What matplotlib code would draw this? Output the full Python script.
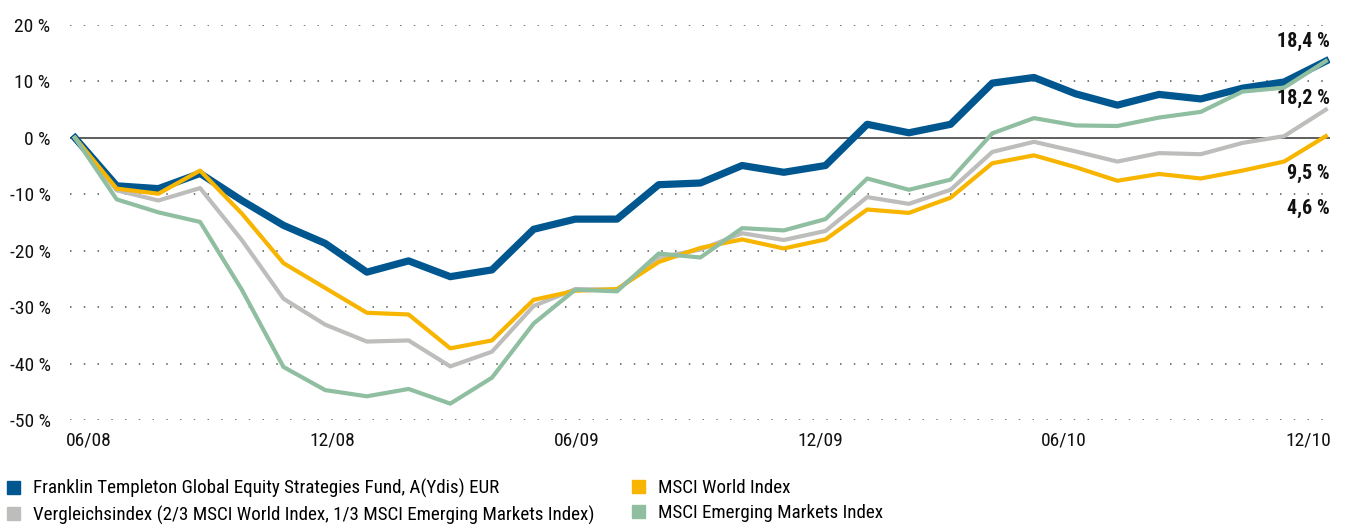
import matplotlib
matplotlib.use('Agg')
import matplotlib.pyplot as plt
import matplotlib.font_manager as fm
from matplotlib.patches import Patch
import numpy as np

# pick a condensed face that is installed
installed = {f.name for f in fm.fontManager.ttflist}
prefs = ['Roboto Condensed', 'Barlow Condensed', 'Archivo Narrow', 'PT Sans Narrow',
         'Pathway Gothic One', 'DejaVu Sans']
plt.rcParams['font.family'] = [f for f in prefs if f in installed][:1] + ['DejaVu Sans']

#DATA--------------------------------------------------------
months = np.arange(31)  # monthly points 06/08 .. 12/10
tick_labels = ['06/08', '12/08', '06/09', '12/09', '06/10', '12/10']

fund = [0, -8.5, -9.0, -6.3, -11.1, -15.5, -18.7, -23.8, -21.8, -24.6, -23.4,
        -16.2, -14.4, -14.4, -8.3, -8.0, -4.9, -6.1, -4.9, 2.4, 0.9,
        2.4, 9.7, 10.7, 7.8, 5.8, 7.7, 6.9, 8.8, 9.9, 13.6]
world = [0, -9.0, -9.9, -5.8, -13.4, -22.2, -26.6, -31.0, -31.3, -37.3, -35.9,
         -28.7, -27.1, -26.8, -22.0, -19.5, -18.0, -19.6, -18.0, -12.7, -13.3,
         -10.6, -4.5, -3.1, -5.2, -7.6, -6.4, -7.2, -5.8, -4.2, 0.3]
blend = [0, -9.3, -11.1, -8.9, -18.1, -28.5, -33.1, -36.1, -35.9, -40.5, -37.9,
         -29.8, -26.8, -26.9, -21.2, -19.8, -16.9, -18.1, -16.5, -10.5, -11.7,
         -9.2, -2.5, -0.7, -2.4, -4.2, -2.7, -2.9, -0.9, 0.3, 5.0]
em = [0, -10.9, -13.2, -14.9, -26.9, -40.6, -44.7, -45.8, -44.5, -47.1, -42.5,
      -32.9, -26.9, -27.2, -20.5, -21.2, -16.0, -16.4, -14.4, -7.2, -9.2,
      -7.4, 0.8, 3.5, 2.2, 2.1, 3.6, 4.6, 8.2, 8.9, 13.6]

end_labels = ['18,4 %', '18,2 %', '9,5 %', '4,6 %']
end_label_y = [17.1, 6.9, -6.3, -12.5]

names = ['Franklin Templeton Global Equity Strategies Fund, A(Ydis) EUR',
         'Vergleichsindex (2/3 MSCI World Index, 1/3 MSCI Emerging Markets Index)',
         'MSCI World Index',
         'MSCI Emerging Markets Index']

C_FUND = '#00578f'
C_BLEND = '#bdbdbb'
C_WORLD = '#f7b500'
C_EM = '#8fbea0'

#PLOTTING----------------------------------------------------
fig = plt.figure(figsize=(13.45, 5.28), dpi=100)
ax = fig.add_axes([70 / 1345, 1 - 420 / 528, 1260 / 1345, 395 / 528])

yticks = np.arange(-50, 21, 10)
for y in yticks:
    if y == 0:
        continue
    ax.axhline(y, color='#555555', lw=1.1, dashes=(1, 8), zorder=1)
ax.axhline(0, color='#333333', lw=1.1, zorder=2)

ax.plot(months, fund, color=C_FUND, lw=5.2, zorder=3)
ax.plot(months, blend, color=C_BLEND, lw=3, zorder=4)
ax.plot(months, world, color=C_WORLD, lw=3, zorder=5)
ax.plot(months, em, color=C_EM, lw=3, zorder=6)

for txt, y in zip(end_labels, end_label_y):
    ax.text(30.1, y, txt, ha='right', va='center', fontsize=14.5,
            fontweight='bold', color='#111111')

ax.set_xlim(-0.12, 30.1)
ax.set_ylim(-50, 20)
ax.set_yticks(yticks)
ax.set_yticklabels([f'{y} %' for y in yticks], fontsize=14, color='#111111')
ax.set_xticks(np.linspace(0.33, 29.57, 6))
ax.set_xticklabels(tick_labels, fontsize=14, color='#111111')
ax.tick_params(length=0, pad=8)
ax.tick_params(axis='y', pad=14)
for s in ax.spines.values():
    s.set_visible(False)

#LEGEND (two columns placed separately)----------------------
colors = [C_FUND, C_BLEND, C_WORLD, C_EM]
leg_kw = dict(loc='upper left', frameon=False, fontsize=13.7,
              handlelength=0.7, handleheight=0.7, handletextpad=0.65,
              labelspacing=0.38, borderpad=0, borderaxespad=0)
for col, x0 in ((0, 7), (1, 632)):
    hs = [Patch(color=c) for c in colors[2 * col:2 * col + 2]]
    fig.legend(hs, names[2 * col:2 * col + 2],
               bbox_to_anchor=(x0 / 1345, 1 - 479 / 528), **leg_kw)

fig.savefig('out.png', dpi=100)
